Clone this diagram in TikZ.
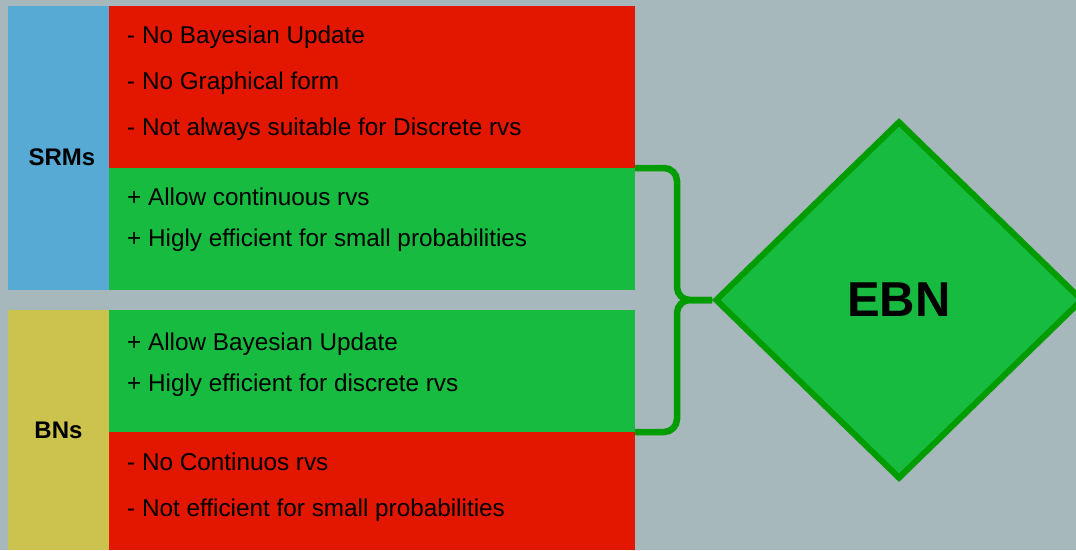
\documentclass[tikz,border=0pt]{standalone}
\usepackage{fontspec}
\setmainfont{Liberation Sans}
\usetikzlibrary{shapes.geometric}

\definecolor{bggray}{HTML}{A6B8BB}
\definecolor{conred}{HTML}{E31600}
\definecolor{progreen}{HTML}{17BB40}
\definecolor{srmblue}{HTML}{56AAD4}
\definecolor{bnyellow}{HTML}{CBC34E}
\definecolor{ebngreen}{HTML}{009C00}

\begin{document}
\begin{tikzpicture}[x=1pt, y=-1pt,
    block/.style={rectangle, inner sep=0pt, outer sep=0pt, anchor=north west},
    item/.style={anchor=base west, inner sep=0pt, font=\fontsize{24.3}{28}\selectfont},
    head/.style={font=\fontsize{24}{28}\selectfont\bfseries},
    brace/.style={draw=ebngreen, line width=6.5pt, rounded corners=13pt}]

    % Background and frame
    \fill[bggray] (0,0) rectangle (1076,550);
    \useasboundingbox (0,0) rectangle (1076,550);

    % Left columns
    \node[block, fill=srmblue, minimum width=101pt, minimum height=284pt] (srm) at (8,6) {};
    \node[block, fill=bnyellow, minimum width=101pt, minimum height=240pt] (bn) at (8,310) {};
    \node[head] (srmlabel) at (62,157) {SRMs};
    \node[head] (bnlabel) at (bn.center) {BNs};

    % Pros and cons boxes
    \node[block, fill=conred, minimum width=526pt, minimum height=162pt] (srmcon) at (109,6) {};
    \node[block, fill=progreen, minimum width=526pt, minimum height=122pt] (srmpro) at (109,168) {};
    \node[block, fill=progreen, minimum width=526pt, minimum height=122pt] (bnpro) at (109,310) {};
    \node[block, fill=conred, minimum width=526pt, minimum height=118pt] (bncon) at (109,432) {};

    % Texts
    \node[item] (c1) at (127,43) {- No Bayesian Update};
    \node[item] (c2) at (127,89) {- No Graphical form};
    \node[item] (c3) at (127,135) {- Not always suitable for Discrete rvs};
    \node[item] (p1) at (127,205) {+ Allow continuous rvs};
    \node[item] (p2) at (127,246) {+ Higly efficient for small probabilities};
    \node[item] (p3) at (127,350) {+ Allow Bayesian Update};
    \node[item] (p4) at (127,391) {+ Higly efficient for discrete rvs};
    \node[item] (c4) at (127,470) {- No Continuos rvs};
    \node[item] (c5) at (127,516) {- Not efficient for small probabilities};

    % Result
    \node[diamond, draw=ebngreen, line width=6pt, fill=progreen, inner sep=0pt,
          minimum width=368pt, minimum height=358pt,
          font=\fontsize{49}{53}\selectfont\bfseries] (ebn) at (899,300) {EBN};

    % Brace joining the pros
    \coordinate (tip) at (677,300);
    \draw[brace] (srmpro.north east) -| (tip) -- (ebn.west);
    \draw[brace] (bnpro.south east) -| (tip) -- (ebn.west);
\end{tikzpicture}
\end{document}
